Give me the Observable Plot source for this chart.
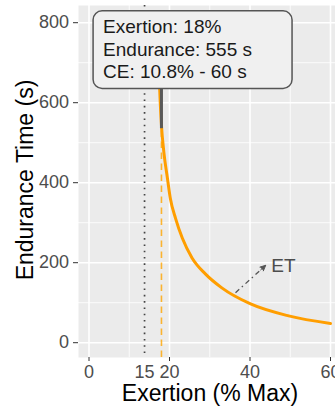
<!DOCTYPE html>
<html><head><meta charset="utf-8">
<script src="https://cdn.jsdelivr.net/npm/d3@7"></script>
<script src="https://cdn.jsdelivr.net/npm/@observablehq/plot@0.6"></script>
<style>html,body{margin:0;padding:0;background:#fff;overflow:hidden}</style>
</head><body><div id="chart"></div>
<script>
// Endurance-time curve
const exertion  = [17.5, 17.7, 18.0, 18.6, 19.5, 20.2, 21.5, 23.2, 25.6, 28.9, 33.0, 40, 49.6, 60];
const endurance = [650, 600, 543, 476, 410, 361, 311, 261, 212, 172, 137, 97.5, 67, 48];
const xTicks = [0, 20, 40, 60];
const yTicks = [0, 200, 400, 600, 800];
const xMinor = [10, 30, 50];
const yMinor = [100, 300, 500, 700];
const xDomain = [-2.61, 61.24];
const yDomain = [-37, 843];
const selExertion = 18;
const selEndurance = 535;
const ceExertion = 13.8;
const ceLabel = "15";
const infoLines = ["Exertion: 18%", "Endurance: 555 s", "CE: 10.8% - 60 s"];
const infoAt = {x: 3.5, y: 736};
const etArrow = {x1: 36.4, y1: 125, x2: 43.9, y2: 193.5};
const etLabel = {x: 45.3, y: 192, text: "ET"};
const xTitle = "Exertion (% Max)";
const yTitle = "Endurance Time (s)";

const curve = exertion.map((x, i) => ({x, y: endurance[i]}));
const font = "'Liberation Sans', Arial, Helvetica, sans-serif";

const plot = Plot.plot({
  width: 335, height: 408,
  marginLeft: 78, marginRight: 0, marginTop: 5, marginBottom: 51,
  x: {domain: xDomain},
  y: {domain: yDomain},
  style: {fontFamily: font, background: "#fff", overflow: "hidden"},
  marks: [
    Plot.frame({fill: "#ebebeb", stroke: "none"}),
    Plot.ruleX(xMinor, {stroke: "#fff", strokeWidth: 0.8}),
    Plot.ruleY(yMinor, {stroke: "#fff", strokeWidth: 0.8}),
    Plot.ruleX(xTicks, {stroke: "#fff", strokeWidth: 1.6}),
    Plot.ruleY(yTicks, {stroke: "#fff", strokeWidth: 1.6}),
    Plot.ruleX([ceExertion], {stroke: "#444", strokeWidth: 1.7, strokeDasharray: "1.6,4.7"}),
    Plot.ruleX([selExertion], {y1: yDomain[0], y2: selEndurance, stroke: "orange", strokeOpacity: 0.8, strokeWidth: 1.6, strokeDasharray: "6.5,4.5"}),
    Plot.line(curve, {x: "x", y: "y", stroke: "#FF9E00", strokeWidth: 3, curve: "monotone-x"}),
    Plot.ruleX([selExertion], {y1: selEndurance, y2: infoAt.y, stroke: "#595959", strokeWidth: 3}),
    Plot.arrow([etArrow], {x1: "x1", y1: "y1", x2: "x2", y2: "y2", stroke: "#555", strokeWidth: 1.3,
      headLength: 0, insetEnd: 6, strokeDasharray: "5,3.5,1.5,3.5", strokeLinecap: "butt"}),
    Plot.arrow([etArrow], {x1: "x1", y1: "y1", x2: "x2", y2: "y2", stroke: "#555", fill: "#555", strokeWidth: 1,
      headLength: 9, headAngle: 50, insetStart: 34, ariaDescription: "ethead"}),
    Plot.text([etLabel], {x: "x", y: "y", text: "text", textAnchor: "start", fontSize: 19, fill: "#4d4d4d"}),
    Plot.text([{...infoAt, text: infoLines.join("\n")}], {x: "x", y: "y", text: "text", textAnchor: "start",
      lineHeight: 1.2, fontSize: 19, fill: "#1a1a1a", ariaDescription: "infobox"}),
    Plot.axisX({ticks: xTicks, tickSize: 4, tickPadding: 4, fontSize: 18, fill: "#4d4d4d", stroke: "#333", label: null}),
    Plot.axisY({ticks: yTicks, tickSize: 5, tickPadding: 4.5, fontSize: 18, fill: "#4d4d4d", stroke: "#333", label: null}),
    Plot.text([{x: ceExertion, text: ceLabel}], {x: "x", text: "text", frameAnchor: "bottom", lineAnchor: "top", dy: 8, fontSize: 18, fill: "#4d4d4d"}),
    Plot.text([xTitle], {text: d => d, frameAnchor: "bottom", lineAnchor: "middle", textAnchor: "middle", dy: 36.6, dx: 3, fontSize: 23, fill: "#000"}),
    Plot.text([yTitle], {text: d => d, frameAnchor: "left", lineAnchor: "middle", textAnchor: "middle", rotate: -90, dx: -52.4, dy: -1.5, fontSize: 23, fill: "#000"})
  ]
});
document.getElementById("chart").append(plot);

// rounded label box behind the info text
const g = plot.querySelector('g[aria-description="infobox"]');
if (g) {
  const bb = g.getBBox();
  const r = document.createElementNS("http://www.w3.org/2000/svg", "rect");
  r.setAttribute("x", bb.x - 10);
  r.setAttribute("y", bb.y - 5);
  r.setAttribute("width", bb.width + 50);
  r.setAttribute("height", bb.height + 11);
  r.setAttribute("rx", 9);
  r.setAttribute("fill", "#f0f0f0");
  r.setAttribute("stroke", "#555");
  r.setAttribute("stroke-width", 1.5);
  if (g.getAttribute("transform")) r.setAttribute("transform", g.getAttribute("transform"));
  g.parentNode.insertBefore(r, g);
}
const head = plot.querySelector('g[aria-description="ethead"]');
if (head) head.querySelectorAll("path").forEach(p => { p.setAttribute("fill", "#555"); p.setAttribute("stroke-dasharray", "none"); });
</script>
</body></html>
